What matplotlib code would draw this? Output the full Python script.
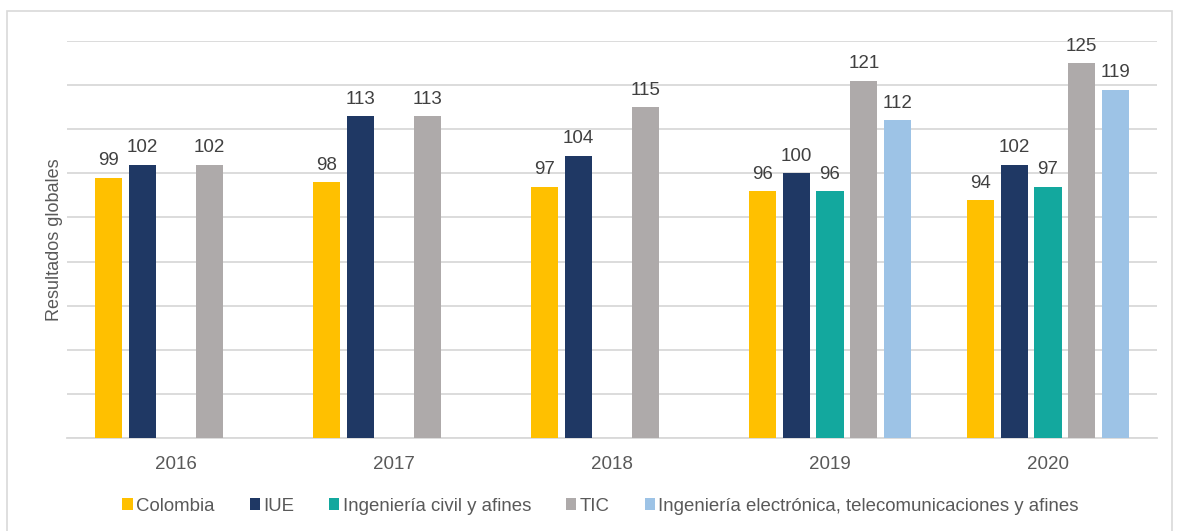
import numpy as np
import matplotlib.pyplot as plt
from matplotlib.patches import Rectangle

years = ["2016", "2017", "2018", "2019", "2020"]
colombia = [99, 98, 97, 96, 94]
iue = [102, 113, 104, 100, 102]
civil = [np.nan, np.nan, np.nan, 96, 97]
tic = [102, 113, 115, 121, 125]
electronica = [np.nan, np.nan, np.nan, 112, 119]

series = [
    ("Colombia", colombia, "#FFC000"),
    ("IUE", iue, "#1F3864"),
    ("Ingeniería civil y afines", civil, "#13A89E"),
    ("TIC", tic, "#AEAAAA"),
    ("Ingeniería electrónica, telecomunicaciones y afines", electronica, "#9DC3E6"),
]

plt.rcParams['font.family'] = ['Liberation Sans', 'DejaVu Sans']

fig = plt.figure(figsize=(11.8, 5.31), dpi=100)
ax = fig.add_axes([0.0568, 0.1751, 0.9237, 0.7476])

x = np.arange(len(years))
step = 0.155
width = 0.124
for i, (name, vals, color) in enumerate(series):
    pos = x + (i - 2) * step
    bars = ax.bar(pos, vals, width=width, color=color, label=name, zorder=3)
    for b, v in zip(bars, vals):
        if np.isnan(v):
            continue
        ax.annotate(f"{v:.0f}", (b.get_x() + b.get_width() / 2, v),
                    xytext=(0, 6), textcoords="offset points",
                    ha="center", va="bottom", fontsize=13.5, color="#404040")

ax.set_xlim(-0.5, 4.5)
ax.set_ylim(40, 130)
ax.set_yticks(np.arange(40, 131, 10))
ax.set_yticklabels([])
ax.tick_params(axis="y", length=0)
ax.tick_params(axis="x", length=0, pad=13, labelsize=13.5, labelcolor="#595959")
ax.set_xticks(x)
ax.set_xticklabels(years)
ax.grid(axis="y", color="#D9D9D9", linewidth=1.3, zorder=0)
for s in ["top", "right", "left"]:
    ax.spines[s].set_visible(False)
ax.spines["bottom"].set_color("#D9D9D9")
ax.spines["bottom"].set_linewidth(1.3)
ax.set_ylabel("Resultados globales", fontsize=13, color="#595959")
ax.yaxis.set_label_coords(-0.004, 0.5)

fig.legend(loc="center", bbox_to_anchor=(0.509, 0.047), ncol=5, frameon=False,
           fontsize=13.4, handlelength=0.54, handleheight=0.54, handletextpad=0.19,
           columnspacing=1.88, labelcolor="#595959")

fig.patches.append(Rectangle((7 / 1180, -0.01), 1165 / 1180, 1 - 11 / 531 + 0.01,
                             transform=fig.transFigure, fill=False,
                             edgecolor="#D9D9D9", linewidth=1.2))

fig.savefig("out.png", dpi=100)
